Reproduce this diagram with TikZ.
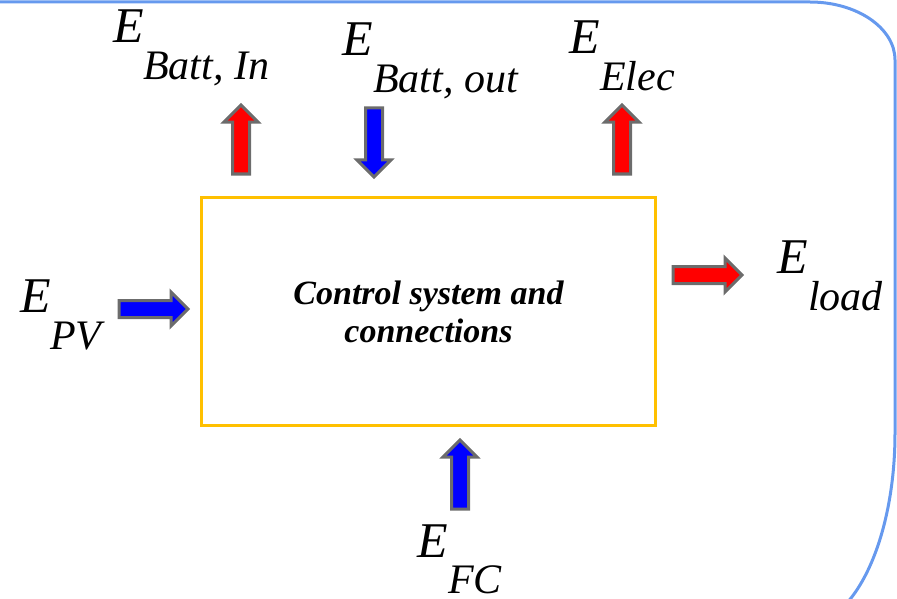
\documentclass[tikz,border=0pt]{standalone}
\usepackage{fontspec}
\setmainfont{Liberation Serif}
\usetikzlibrary{shapes.arrows}
\definecolor{framegold}{RGB}{255,192,0}
\definecolor{edgeblue}{RGB}{102,153,238}
\definecolor{arrowgray}{RGB}{108,108,108}

\begin{document}
\begin{tikzpicture}[x=1pt, y=-1pt,
  flow/.style={single arrow, draw=arrowgray, line width=3pt, inner sep=7pt,
    single arrow head extend=8.5pt, minimum height=69pt, anchor=tail},
  lbl/.style={inner sep=0pt, anchor=base west, font=\fontsize{50}{50}\selectfont\itshape},
  sublbl/.style={inner sep=0pt, anchor=base west, font=\fontsize{42}{42}\selectfont\itshape}]
  \useasboundingbox (0,0) rectangle (897,599);

  \node[lbl] (battin) at (113,43) {E};
  \node[sublbl] (battinsub) at (143,80) {Batt, In};
  \node[lbl] (battout) at (342,56) {E};
  \node[sublbl] (battoutsub) at (373,93) {Batt, out};
  \node[lbl] (elec) at (569,54) {E};
  \node[sublbl] (elecsub) at (600,91) {Elec};
  \node[lbl] (pv) at (20,312) {E};
  \node[sublbl] (pvsub) at (50,349) {PV};
  \node[lbl] (load) at (777,273) {E};
  \node[sublbl] (loadsub) at (808,310) {load};
  \node[lbl] (fc) at (417,557) {E};
  \node[sublbl] (fcsub) at (448,593) {FC};

  \node[draw=framegold, line width=3pt, minimum width=454pt, minimum height=228pt, align=center,
    font=\fontsize{34}{38}\selectfont\bfseries\itshape] (ctrl) at (428.5,311.5)
    {Control system and\\connections};

  \node[flow, fill=red, shape border rotate=90] (battinflow) at (241,175.5) {};
  \node[flow, fill=blue, shape border rotate=270] (battoutflow) at (374,106.5) {};
  \node[flow, fill=red, shape border rotate=90] (elecflow) at (622,175.5) {};
  \node[flow, fill=blue] (pvflow) at (117.5,309) {};
  \node[flow, fill=red] (loadflow) at (671.5,275) {};
  \node[flow, fill=blue, shape border rotate=90] (fcflow) at (460,510.5) {};

  \draw[edgeblue, line width=3pt] (-10,2) -- (810,2)
    arc[start angle=-90, end angle=0, x radius=85, y radius=58] -- (895,433)
    arc[start angle=0, end angle=90, x radius=90, y radius=192] -- (-10,625);
\end{tikzpicture}
\end{document}
